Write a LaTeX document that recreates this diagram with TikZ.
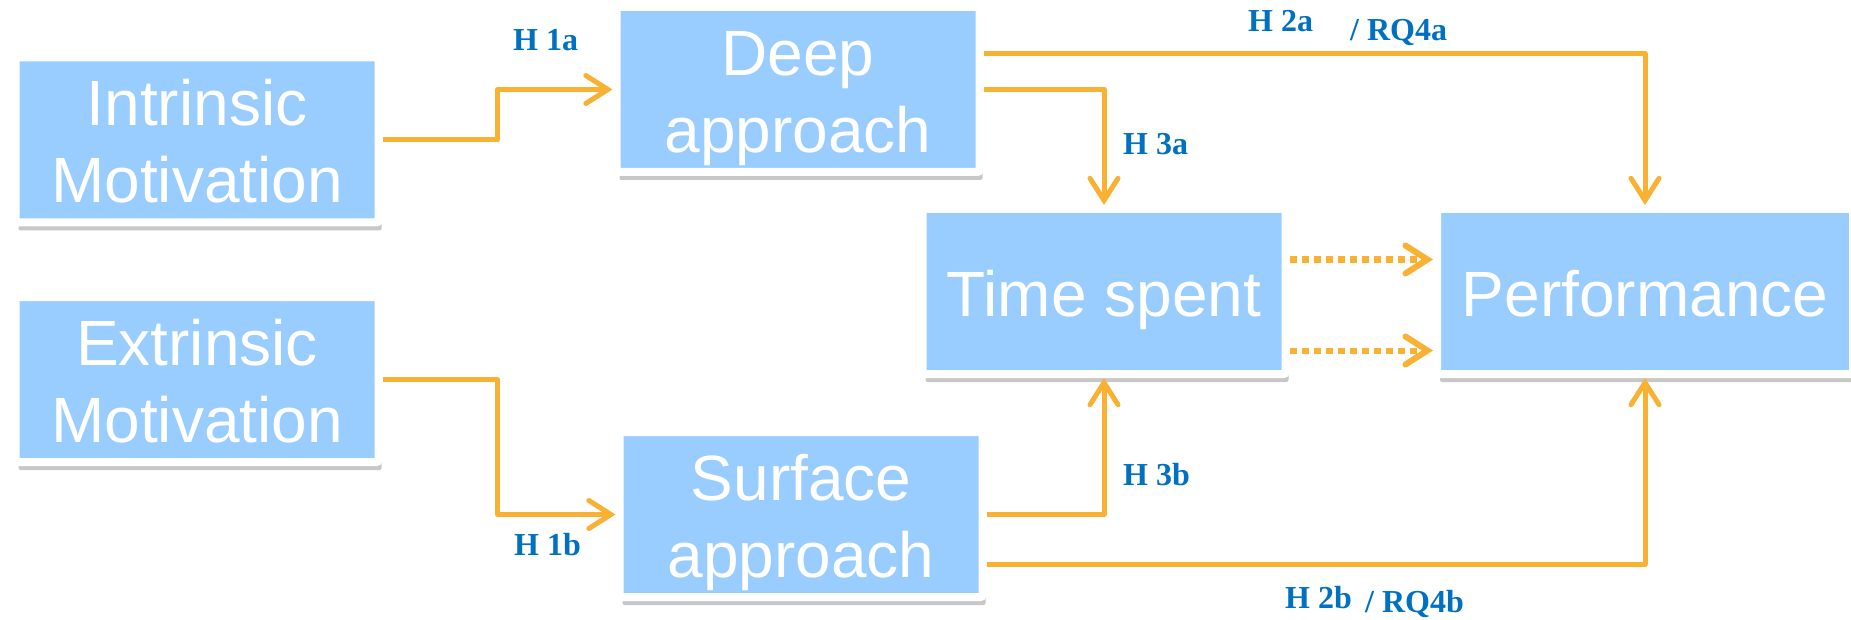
\documentclass[tikz,border=0pt]{standalone}
\usepackage{fontspec}
\setmainfont{Liberation Sans}
\newfontfamily\hypfont{Liberation Serif}
\usetikzlibrary{arrows.meta, positioning, calc, shadows}
\definecolor{boxblue}{HTML}{99CCFF}
\definecolor{arrorange}{HTML}{F8B133}
\definecolor{hypblue}{HTML}{0070C0}

\begin{document}
\begin{tikzpicture}[x=1pt, y=-1pt,
    box/.style={rectangle, fill=boxblue, draw=white, line width=8pt, rounded corners=2pt,
        text=white, align=center, minimum width=363pt, minimum height=165pt, inner sep=0pt,
        font=\fontsize{64}{77}\selectfont, text height=49pt, text depth=0pt,
        drop shadow={shadow xshift=3pt, shadow yshift=-8pt, opacity=0.22, fill=black}},
    twoline/.style={box, text height=126pt},
    hyp/.style={anchor=base west, inner sep=0pt, text=hypblue, font=\hypfont\bfseries\fontsize{32}{36}\selectfont},
    link/.style={draw=arrorange, line width=5pt, line join=round,
        -{Straight Barb[length=22pt, width=28pt, line cap=round]}},
    maybe/.style={link, dash pattern=on 7pt off 5pt, line width=6pt}]
    \path[use as bounding box, fill=white] (0,0) rectangle (1851,620);

    \node[twoline] (intr) at (197,140) {Intrinsic\\Motivation};
    \node[twoline] (extr) at (197,379.5) {Extrinsic\\Motivation};
    \node[twoline] (deep) at (798,89.5) {Deep\\approach};
    \node[twoline] (surf) at (801,514.5) {Surface\\approach};
    \node[box] (time) at (1104,291.5) {Time spent};
    \node[box, minimum width=416pt] (perf) at (1645,291.5) {Performance};

    \draw[link] (intr.east) -- ++(115,0) |- (deep.west);
    \draw[link] (extr.east) -- ++(115,0) |- (surf.west);
    \draw[link] ([yshift=36pt]deep.east) -| (perf.north);
    \draw[link] (deep.east) -| (time.north);
    \draw[link] (surf.east) -| (time.south);
    \draw[link] ([yshift=-50pt]surf.east) -| (perf.south);
    \draw[maybe] ([yshift=32pt]time.east) -- ([yshift=32pt]perf.west);
    \draw[maybe] ([yshift=-59pt]time.east) -- ([yshift=-59pt]perf.west);

    \node[hyp] (h1a) at (513,51) {H 1a};
    \node[hyp] (h1b) at (514,555) {H 1b};
    \node[hyp] (h2a) at (1248,32) {H 2a};
    \node[hyp] (rq4a) at (1350,41) {/ RQ4a};
    \node[hyp] (h3a) at (1123,155) {H 3a};
    \node[hyp] (h3b) at (1123,485) {H 3b};
    \node[hyp] (h2b) at (1285,608) {H 2b};
    \node[hyp] (rq4b) at (1365,612) {/ RQ4b};
\end{tikzpicture}
\end{document}
